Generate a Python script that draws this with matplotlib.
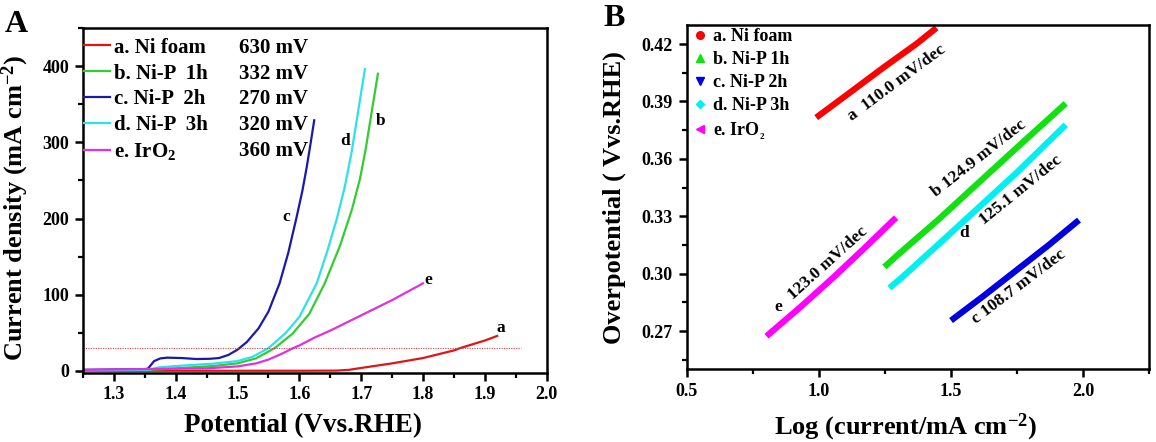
import matplotlib
matplotlib.use("Agg")
import matplotlib.pyplot as plt
from matplotlib.lines import Line2D
from matplotlib.ticker import MultipleLocator

plt.rcParams['font.family'] = ['Liberation Serif', 'DejaVu Serif']
plt.rcParams['font.weight'] = 'bold'
plt.rcParams['mathtext.fontset'] = 'custom'
plt.rcParams['mathtext.rm'] = 'Liberation Serif:bold'
plt.rcParams['mathtext.it'] = 'Liberation Serif:bold'
plt.rcParams['mathtext.bf'] = 'Liberation Serif:bold'

# ---------------- Panel A data (LSV) ----------------
a_x = [1.25, 1.40, 1.60, 1.66, 1.68, 1.70, 1.75, 1.80, 1.85, 1.86, 1.90, 1.92]
a_y = [0.3, 0.3, 0.3, 0.5, 1.5, 4, 10, 17, 27, 30, 40, 46]

b_x = [1.25, 1.35, 1.374, 1.40, 1.46, 1.50, 1.53, 1.56, 1.589, 1.616, 1.641,
       1.666, 1.685, 1.698, 1.707, 1.715, 1.721, 1.727]
b_y = [1, 1.5, 2.2, 3.5, 6.5, 10, 16.6, 30, 49, 75, 115,
       165, 212, 252, 290, 330, 360, 390]

c_x = [1.25, 1.30, 1.35, 1.355, 1.36, 1.365, 1.375, 1.386, 1.41, 1.433, 1.455,
       1.47, 1.485, 1.50, 1.515, 1.534, 1.55, 1.568, 1.582, 1.595, 1.605,
       1.612, 1.618, 1.624]
c_y = [1.5, 2, 2.5, 3, 8, 13, 16.5, 17.5, 17, 15.7, 16,
       17, 21, 28, 38, 56, 78, 115, 155, 200, 237,
       268, 298, 329]

d_x = [1.25, 1.35, 1.36, 1.37, 1.40, 1.46, 1.50, 1.524, 1.55, 1.578, 1.60,
       1.628, 1.645, 1.66, 1.673, 1.684, 1.693, 1.700, 1.706]
d_y = [1, 1.5, 2, 4.5, 6.5, 9.6, 13, 18.5, 30, 50, 71,
       115, 157, 198, 240, 285, 330, 366, 396]

e_x = [1.25, 1.35, 1.45, 1.50, 1.53, 1.55, 1.57, 1.59, 1.60, 1.625, 1.65, 1.70, 1.75, 1.80]
e_y = [1.5, 2.5, 3.5, 6, 10, 15, 22, 30, 33.5, 44, 53, 73, 93, 115]

ref_x = [1.25, 1.958]
ref_y = [30, 30]

lsv_names = ['a. Ni foam', 'b. Ni-P  1h', 'c. Ni-P  2h', 'd. Ni-P  3h', r'e. IrO$_\mathbf{2}$']
lsv_values = ['630 mV', '332 mV', '270 mV', '320 mV', '360 mV']
lsv_tags = ['a', 'b', 'c', 'd', 'e']
lsv_tag_x = [1.926, 1.731, 1.578, 1.674, 1.808]
lsv_tag_y = [56, 328, 202, 302, 119]

# ---------------- Panel B data (Tafel) ----------------
ta_x = [0.99, 1.116, 1.242, 1.368, 1.445]
ta_y = [0.3816, 0.3945, 0.4075, 0.4200, 0.4285]
tb_x = [1.248, 1.30, 1.45, 1.60, 1.75, 1.934]
tb_y = [0.3035, 0.3100, 0.3280, 0.3470, 0.3660, 0.3890]
tc_x = [1.50, 1.62, 1.745, 1.87, 1.984]
tc_y = [0.2755, 0.2880, 0.3015, 0.3150, 0.3280]
td_x = [1.267, 1.31, 1.45, 1.60, 1.75, 1.934]
td_y = [0.2925, 0.2975, 0.3150, 0.3340, 0.3530, 0.3778]
te_x = [0.802, 0.93, 1.054, 1.17, 1.292]
te_y = [0.2673, 0.2825, 0.2979, 0.3130, 0.3293]

tafel_names = ['a. Ni foam', 'b. Ni-P 1h', 'c. Ni-P 2h', 'd. Ni-P 3h', r'e. IrO$_\mathbf{_2}$']
tafel_markers = ['o', '^', 'v', 'D', '<']
tafel_slopes = ['a  110.0 mV/dec', 'b 124.9 mV/dec', '125.1 mV/dec', 'c 108.7 mV/dec', '123.0 mV/dec']
slope_x = [1.295, 1.605, 1.765, 1.758, 1.034]
slope_y = [0.3995, 0.3605, 0.3437, 0.2933, 0.3056]
slope_rot = [36.5, 38, 39, 37, 42]
tag_letters = ['d', 'e']
tag_lx = [1.550, 0.846]
tag_ly = [0.3213, 0.2825]

colsA = ['#e01515', '#33cc33', '#1a1aa8', '#30e0e8', '#e030e0']
colsB = ['#ff0000', '#11e011', '#0000e0', '#00f0f0', '#ff00ff']

fig = plt.figure(figsize=(11.56, 4.42), dpi=100)

# ================= Panel A =================
axA = fig.add_axes([0.0718, 0.1572, 0.4011, 0.7794])
for xs, ys, c, n in zip([a_x, b_x, c_x, d_x, e_x], [a_y, b_y, c_y, d_y, e_y], colsA, lsv_names):
    axA.plot(xs, ys, color=c, lw=1.6, label=n)
axA.plot(ref_x, ref_y, color='#d04040', lw=0.8, ls=(0, (1, 1.2)))
for t, x, y in zip(lsv_tags, lsv_tag_x, lsv_tag_y):
    axA.text(x, y, t, fontsize=12.5, fontweight='bold', ha='center', va='center')

axA.set_xlim(1.25, 2.0)
axA.set_ylim(-2, 450)
axA.xaxis.set_major_locator(MultipleLocator(0.1))
axA.xaxis.set_minor_locator(MultipleLocator(0.05))
axA.yaxis.set_major_locator(MultipleLocator(100))
axA.yaxis.set_minor_locator(MultipleLocator(50))
axA.set_xlabel('Potential (Vvs.RHE)', fontsize=19.5, fontweight='bold')
axA.set_ylabel(r'Current density (mA cm$^{-2}$)', fontsize=19, fontweight='bold')
axA.xaxis.set_label_coords(0.475, -0.118)
axA.yaxis.set_label_coords(-0.112, 0.4775)

hA = [Line2D([], [], color=c, lw=1.6) for c in colsA]
hV = [Line2D([], [], color='none') for _ in colsA]
legA = axA.legend(hA + hV, lsv_names + lsv_values, ncol=2, loc='upper left',
                  bbox_to_anchor=(0.003, 0.972), frameon=False, borderpad=0,
                  borderaxespad=0, fontsize=15, handlelength=1.25,
                  handletextpad=0.15, columnspacing=0.1, labelspacing=0.28)
for t in legA.get_texts():
    t.set_fontweight('bold')

# ================= Panel B =================
axB = fig.add_axes([0.5940, 0.1645, 0.4002, 0.7790])
for xs, ys, c in zip([ta_x, tb_x, tc_x, td_x, te_x], [ta_y, tb_y, tc_y, td_y, te_y], colsB):
    axB.plot(xs, ys, color=c, lw=4.5, solid_capstyle='butt')
for s, x, y, r in zip(tafel_slopes, slope_x, slope_y, slope_rot):
    axB.text(x, y, s, fontsize=12.5, fontweight='bold', ha='center', va='center',
             rotation=r, rotation_mode='anchor')
for t, x, y in zip(tag_letters, tag_lx, tag_ly):
    axB.text(x, y, t, fontsize=12.5, fontweight='bold', ha='center', va='center')

axB.set_xlim(0.5, 2.25)
axB.set_ylim(0.25, 0.43)
axB.xaxis.set_major_locator(MultipleLocator(0.5))
axB.xaxis.set_minor_locator(MultipleLocator(0.25))
axB.yaxis.set_major_locator(MultipleLocator(0.03))
axB.yaxis.set_minor_locator(MultipleLocator(0.015))
axB.xaxis.set_major_formatter(plt.FuncFormatter(lambda v, p: f'{v:.1f}'))
axB.yaxis.set_major_formatter(plt.FuncFormatter(lambda v, p: f'{v:.2f}'))
axB.set_xlabel(r'Log (current/mA cm$^{-2}$)', fontsize=19, fontweight='bold')
axB.set_ylabel('Overpotential ( Vvs.RHE)', fontsize=19, fontweight='bold')
axB.xaxis.set_label_coords(0.474, -0.122)
axB.yaxis.set_label_coords(-0.131, 0.5)

hB = [Line2D([], [], color=c, marker=m, ls='none', markersize=ms)
      for c, m, ms in zip(colsB, tafel_markers, [5.5, 5.5, 5.5, 4.5, 5.5])]
legB = axB.legend(hB, tafel_names, loc='upper left', bbox_to_anchor=(0.013, 0.99),
                  frameon=False, borderpad=0, borderaxespad=0, fontsize=13,
                  handlelength=0.8, handletextpad=0.35, labelspacing=0.33, numpoints=1)
for t in legB.get_texts():
    t.set_fontweight('bold')

for ax in (axA, axB):
    for sp in ax.spines.values():
        sp.set_linewidth(1.8)
    ax.tick_params(which='major', direction='out', length=6, width=1.8, labelsize=13, pad=4)
    ax.tick_params(which='minor', direction='out', length=3.5, width=1.6)

fig.text(0.004, 0.978, 'A', fontsize=23, fontweight='bold', va='top', ha='left')
fig.text(0.522, 0.990, 'B', fontsize=23, fontweight='bold', va='top', ha='left')

fig.savefig('out.png', dpi=100)
